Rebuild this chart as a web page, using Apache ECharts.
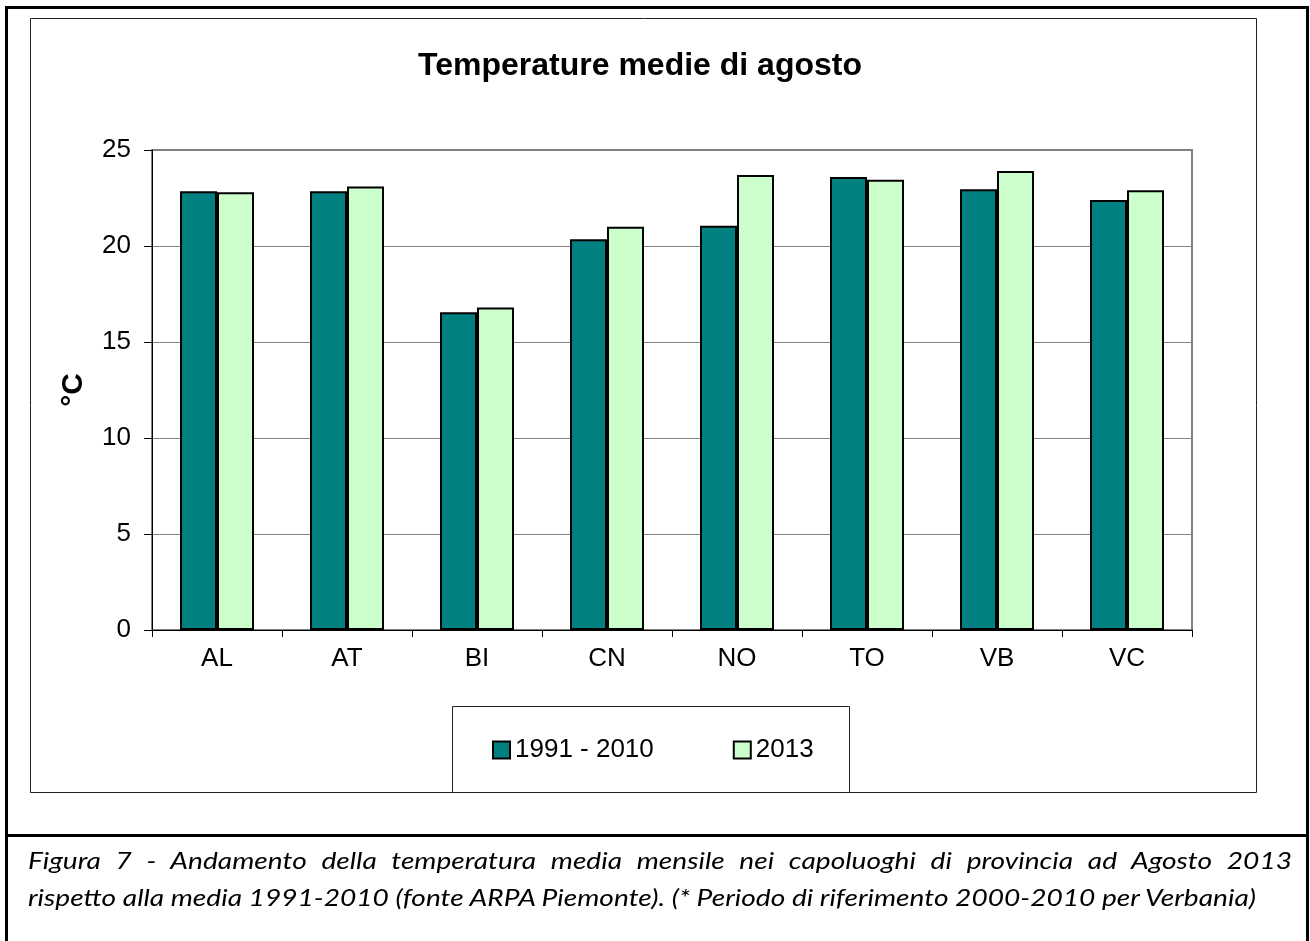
<!DOCTYPE html>
<html><head><meta charset="utf-8">
<script src="https://cdn.jsdelivr.net/npm/echarts@6/dist/echarts.min.js"></script>
<style>
html,body{margin:0;padding:0;background:#fff;}
#chart{position:absolute;left:0;top:0;width:1310px;height:941px;}
#caption{position:absolute;left:28px;top:841px;font-family:Lato,'Open Sans',sans-serif;font-style:italic;font-size:24px;line-height:37px;color:#000;transform-origin:0 0;}
#l1{text-align:justify;text-align-last:justify;white-space:normal;}
#l2{white-space:nowrap;}
</style></head><body>
<div id="chart"></div>
<div id="caption"><div id="l1">Figura 7 - Andamento della temperatura media mensile nei capoluoghi di provincia ad Agosto 2013</div><div id="l2"><span id="l2s">rispetto alla media 1991-2010 (fonte ARPA Piemonte). (* Periodo di riferimento 2000-2010 per Verbania)</span></div></div>
<script>
const categories = ['AL', 'AT', 'BI', 'CN', 'NO', 'TO', 'VB', 'VC'];
const seriesNames = ['1991 - 2010', '2013'];
const values19912010 = [22.85, 22.85, 16.55, 20.35, 21.05, 23.6, 22.95, 22.4];
const values2013 = [22.8, 23.1, 16.8, 21.0, 23.7, 23.45, 23.9, 22.9];
const yMin = 0, yMax = 25, yStep = 5;
const titleText = 'Temperature medie di agosto';
const yName = '°C';

const chart = echarts.init(document.getElementById('chart'), null, {renderer: 'canvas'});
const font = 'Liberation Sans, Arial, sans-serif';
chart.setOption({
  animation: false,
  backgroundColor: '#fff',
  graphic: [
    {type: 'rect', shape: {x: 6.5, y: 7.5, width: 1301, height: 960}, style: {fill: 'none', stroke: '#000', lineWidth: 3}, z: 0},
    {type: 'line', shape: {x1: 6, y1: 835.5, x2: 1308, y2: 835.5}, style: {stroke: '#000', lineWidth: 3}, z: 0},
    {type: 'rect', shape: {x: 30.5, y: 18.5, width: 1226, height: 774}, style: {fill: 'none', stroke: '#222', lineWidth: 1}, z: 0},
    {type: 'rect', shape: {x: 452.5, y: 706.5, width: 397, height: 86}, style: {fill: 'none', stroke: '#222', lineWidth: 1}, z: 0},
    {type: 'text', x: 640, y: 66, style: {text: titleText, font: 'bold 32px ' + font, fill: '#000', textAlign: 'center', textVerticalAlign: 'middle'}, z: 5}
  ],
  grid: {left: 152, right: 118, top: 150, bottom: 311, show: true, borderColor: '#808080', borderWidth: 2, backgroundColor: 'rgba(0,0,0,0)', containLabel: false},
  legend: {
    data: seriesNames, left: 492, top: 737, padding: 0, itemWidth: 17, itemHeight: 17, itemGap: 79, icon: 'rect',
    itemStyle: {borderColor: '#000', borderWidth: 2},
    textStyle: {fontSize: 26, color: '#000', fontFamily: font, padding: [0, 0, 0, 0]}
  },
  xAxis: {
    type: 'category', data: categories,
    axisLine: {lineStyle: {color: '#000', width: 1}},
    axisTick: {show: true, length: 7, lineStyle: {color: '#000'}},
    axisLabel: {fontSize: 26, color: '#000', fontFamily: font, margin: 16}
  },
  yAxis: {
    type: 'value', min: yMin, max: yMax, interval: yStep,
    name: yName, nameLocation: 'middle', nameGap: 63, nameRotate: 90,
    nameTextStyle: {fontSize: 30, fontWeight: 'bold', color: '#000', fontFamily: font},
    axisLine: {show: true, lineStyle: {color: '#000', width: 1}},
    axisTick: {show: true, length: 8, lineStyle: {color: '#000'}},
    axisLabel: {fontSize: 26, color: '#000', fontFamily: font, margin: 21},
    splitLine: {show: true, lineStyle: {color: '#808080', width: 1}}
  },
  series: [
    {name: seriesNames[0], type: 'bar', data: values19912010, barWidth: 37, barGap: '0%',
     itemStyle: {color: '#008080', borderColor: '#000', borderWidth: 2}},
    {name: seriesNames[1], type: 'bar', data: values2013, barWidth: 37, barGap: '0%',
     itemStyle: {color: '#CCFFCC', borderColor: '#000', borderWidth: 2}}
  ]
});

const cap = document.getElementById('caption');
const w2 = document.getElementById('l2s').getBoundingClientRect().width;
const s = 1228 / w2;
cap.style.transform = 'scaleX(' + s + ')';
cap.style.width = (1264 / s) + 'px';
</script>
</body></html>
